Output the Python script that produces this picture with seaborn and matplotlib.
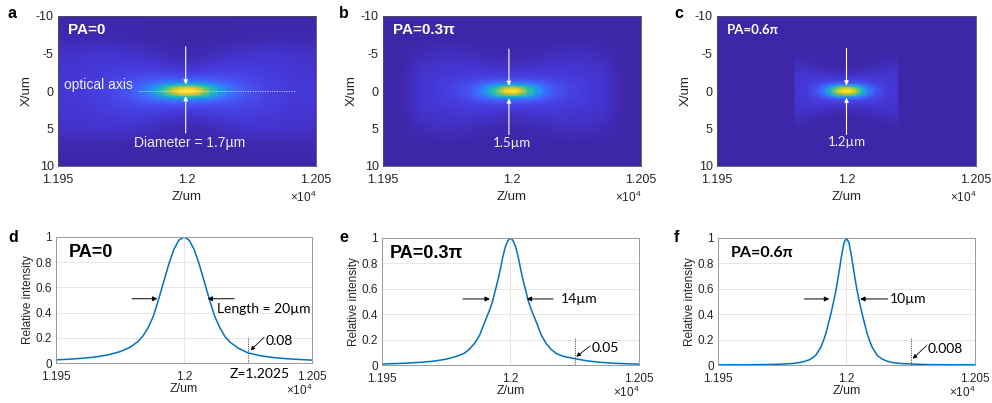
import numpy as np
import matplotlib
matplotlib.use("Agg")
import matplotlib.pyplot as plt
import seaborn as sns
from matplotlib.colors import LinearSegmentedColormap
from matplotlib.ticker import FuncFormatter, FixedLocator

sns.set_theme(style="white")
plt.rcParams['font.family'] = ['Liberation Sans', 'DejaVu Sans']
plt.rcParams['mathtext.default'] = 'regular'
plt.rcParams['axes.unicode_minus'] = False

# ---------------- data ----------------
Z_CENTER = 12000.0  # um
z_ticks = [11950, 12000, 12050]
x_ticks = [-10, -5, 0, 5, 10]
y_ticks = [0, 0.2, 0.4, 0.6, 0.8, 1.0]

pa_labels = ["PA=0", "PA=0.3\u03c0", "PA=0.6\u03c0"]
diam_labels = ["Diameter = 1.7\u00b5m", "1.5\u00b5m", "1.2\u00b5m"]
length_labels = ["Length = 20\u00b5m", "14\u00b5m", "10\u00b5m"]
tail_labels = ["0.08", "0.05", "0.008"]
tail_z = [12025, 12025, 12025]

# Focal intensity maps: one quadrant (z>=0, x>=0), mirrored about the focus
x_nodes = [0, 0.4, 0.8, 1.2, 1.8, 2.6, 3.6, 5.0, 7.0, 10.0]
z_nodes_a = [0, 3, 6, 9, 12, 16, 22, 30, 40, 50]
map_a = [
    [1.00, 0.85, 0.52, 0.26, 0.14, 0.080, 0.040, 0.010, 0.0, 0.0],
    [0.95, 0.80, 0.50, 0.26, 0.14, 0.080, 0.045, 0.012, 0.0, 0.0],
    [0.77, 0.66, 0.44, 0.25, 0.14, 0.085, 0.050, 0.016, 0.0, 0.0],
    [0.56, 0.50, 0.36, 0.23, 0.14, 0.090, 0.056, 0.022, 0.0, 0.0],
    [0.40, 0.36, 0.29, 0.20, 0.135, 0.095, 0.062, 0.030, 0.002, 0.0],
    [0.26, 0.24, 0.21, 0.17, 0.125, 0.095, 0.068, 0.040, 0.005, 0.0],
    [0.16, 0.155, 0.145, 0.13, 0.11, 0.090, 0.072, 0.050, 0.010, 0.0],
    [0.10, 0.10, 0.098, 0.094, 0.088, 0.080, 0.070, 0.055, 0.014, 0.0],
    [0.075, 0.075, 0.074, 0.072, 0.070, 0.066, 0.060, 0.050, 0.014, 0.0],
    [0.065, 0.065, 0.064, 0.063, 0.061, 0.058, 0.053, 0.044, 0.012, 0.0],
]
z_nodes_b = [0, 3, 6, 9, 12, 16, 22, 30, 36, 42, 50]
map_b = [
    [1.00, 0.80, 0.44, 0.20, 0.10, 0.060, 0.030, 0.008, 0.0, 0.0],
    [0.86, 0.70, 0.41, 0.20, 0.10, 0.062, 0.033, 0.010, 0.0, 0.0],
    [0.60, 0.52, 0.35, 0.19, 0.10, 0.065, 0.038, 0.012, 0.0, 0.0],
    [0.40, 0.36, 0.27, 0.17, 0.10, 0.068, 0.043, 0.015, 0.0, 0.0],
    [0.26, 0.24, 0.20, 0.145, 0.095, 0.070, 0.048, 0.019, 0.0, 0.0],
    [0.16, 0.15, 0.14, 0.115, 0.088, 0.070, 0.052, 0.024, 0.0, 0.0],
    [0.10, 0.098, 0.094, 0.088, 0.078, 0.066, 0.054, 0.030, 0.002, 0.0],
    [0.070, 0.070, 0.069, 0.067, 0.064, 0.058, 0.050, 0.030, 0.002, 0.0],
    [0.058, 0.058, 0.057, 0.055, 0.052, 0.047, 0.038, 0.020, 0.0, 0.0],
    [0.010, 0.010, 0.010, 0.009, 0.008, 0.006, 0.004, 0.001, 0.0, 0.0],
    [0.0, 0.0, 0.0, 0.0, 0.0, 0.0, 0.0, 0.0, 0.0, 0.0],
]
z_nodes_c = [0, 2, 4, 6, 8, 11, 15, 19.5, 20.5, 30, 50]
map_c = [
    [1.00, 0.75, 0.32, 0.12, 0.065, 0.020, 0.0, 0.0, 0.0, 0.0],
    [0.93, 0.70, 0.32, 0.12, 0.065, 0.022, 0.0, 0.0, 0.0, 0.0],
    [0.74, 0.58, 0.29, 0.12, 0.065, 0.025, 0.0, 0.0, 0.0, 0.0],
    [0.50, 0.40, 0.24, 0.115, 0.065, 0.030, 0.002, 0.0, 0.0, 0.0],
    [0.30, 0.26, 0.17, 0.10, 0.065, 0.035, 0.005, 0.0, 0.0, 0.0],
    [0.15, 0.14, 0.115, 0.085, 0.062, 0.042, 0.012, 0.0, 0.0, 0.0],
    [0.080, 0.078, 0.074, 0.068, 0.060, 0.048, 0.022, 0.0, 0.0, 0.0],
    [0.060, 0.060, 0.059, 0.058, 0.056, 0.050, 0.035, 0.002, 0.0, 0.0],
    [0.0, 0.0, 0.0, 0.0, 0.0, 0.0, 0.0, 0.0, 0.0, 0.0],
    [0.0, 0.0, 0.0, 0.0, 0.0, 0.0, 0.0, 0.0, 0.0, 0.0],
    [0.0, 0.0, 0.0, 0.0, 0.0, 0.0, 0.0, 0.0, 0.0, 0.0],
]

# On-axis relative intensity curves (z in um)
z_d = [11950, 11955, 11960, 11965, 11970, 11975, 11979, 11982, 11984, 11986, 11988, 11990,
       11992, 11994, 11996, 11998, 12000, 12002, 12004, 12006, 12008, 12010, 12012, 12014,
       12016, 12018, 12021, 12025, 12030, 12035, 12040, 12045, 12050]
I_d = [0.025, 0.030, 0.037, 0.047, 0.063, 0.090, 0.125, 0.170, 0.215, 0.280, 0.370, 0.500,
       0.640, 0.780, 0.900, 0.975, 1.000, 0.975, 0.900, 0.780, 0.640, 0.500, 0.370, 0.280,
       0.210, 0.165, 0.120, 0.080, 0.057, 0.043, 0.034, 0.028, 0.023]
z_e = [11950, 11955, 11960, 11965, 11970, 11975, 11979, 11982, 11984, 11986, 11988, 11990,
       11992, 11993, 11994, 11995, 11996, 11997, 11998, 11999, 12000, 12001, 12002, 12003,
       12004, 12005, 12006, 12007, 12008, 12010, 12012, 12014, 12016, 12018, 12021, 12025,
       12030, 12035, 12040, 12045, 12050]
I_e = [0.008, 0.011, 0.015, 0.021, 0.030, 0.046, 0.068, 0.092, 0.125, 0.170, 0.235, 0.340,
       0.440, 0.500, 0.580, 0.660, 0.750, 0.850, 0.930, 0.980, 1.000, 0.980, 0.930, 0.850,
       0.750, 0.660, 0.580, 0.500, 0.440, 0.340, 0.235, 0.165, 0.120, 0.088, 0.066, 0.050,
       0.032, 0.021, 0.014, 0.010, 0.007]
z_f = [11950, 11960, 11970, 11975, 11979, 11982, 11984, 11986, 11988, 11990, 11991, 11992,
       11993, 11994, 11995, 11996, 11997, 11998, 11999, 12000, 12001, 12002, 12003, 12004,
       12005, 12006, 12007, 12008, 12009, 12010, 12012, 12014, 12016, 12018, 12021, 12025,
       12030, 12040, 12050]
I_f = [0.001, 0.002, 0.004, 0.007, 0.012, 0.020, 0.030, 0.045, 0.075, 0.140, 0.190, 0.250,
       0.330, 0.410, 0.500, 0.600, 0.720, 0.850, 0.960, 1.000, 0.960, 0.850, 0.720, 0.600,
       0.500, 0.410, 0.330, 0.250, 0.190, 0.140, 0.075, 0.045, 0.029, 0.019, 0.012, 0.008,
       0.004, 0.002, 0.001]

# ---------------- colormap (MATLAB parula-like) ----------------
parula_rgb = [
    (0.2422, 0.1504, 0.6603), (0.2706, 0.2147, 0.8364), (0.2813, 0.3006, 0.9414),
    (0.2699, 0.3892, 0.9906), (0.1963, 0.4847, 0.9892), (0.1687, 0.5703, 0.9359),
    (0.1248, 0.6459, 0.8883), (0.0297, 0.7082, 0.8163), (0.0964, 0.7500, 0.7120),
    (0.2161, 0.7843, 0.5923), (0.3909, 0.8029, 0.4354), (0.6174, 0.7876, 0.2612),
    (0.8203, 0.7498, 0.1535), (0.9728, 0.7298, 0.2394), (0.9892, 0.8136, 0.1885),
    (0.9597, 0.9135, 0.1423), (0.9769, 0.9839, 0.0805),
]
parula = LinearSegmentedColormap.from_list("parula", parula_rgb, N=256)
LINE_BLUE = (0.0, 0.4470, 0.7410)
TXT = '#262626'


def full_map(zn, xn, q):
    q = np.asarray(q, dtype=float)
    zn = np.asarray(zn, dtype=float)
    xn = np.asarray(xn, dtype=float)
    zf = np.concatenate([-zn[:0:-1], zn])
    xf = np.concatenate([-xn[:0:-1], xn])
    f = np.concatenate([q[:0:-1], q], axis=0)
    f = np.concatenate([f[:, :0:-1], f], axis=1)
    return zf + Z_CENTER, xf, f


zfmt = FuncFormatter(lambda v, p: f"{v / 1e4:g}")

fig = plt.figure(figsize=(9.92, 4.03), dpi=100)
W, H = 992.0, 403.0


def add_ax(l, r, t, b):
    return fig.add_axes([l / W, 1 - b / H, (r - l) / W, (b - t) / H])


top_boxes = [(58, 316, 16, 166), (383, 641, 16, 166), (717, 976, 16, 166)]
bot_boxes = [(56, 312, 237, 363), (382, 639, 238, 365), (718, 975, 238, 365)]
maps = [(z_nodes_a, map_a), (z_nodes_b, map_b), (z_nodes_c, map_c)]
curves = [(z_d, I_d), (z_e, I_e), (z_f, I_f)]

# geometry of the annotations (positions only)
arrow_z = [11999.5, 11998.8, 12000]
arrow_top = [(-5.9, -0.9), (-5.6, -0.7), (-5.7, -0.75)]
arrow_bot = [(5.6, 0.7), (5.8, 1.0), (5.8, 0.9)]
diam_pos = [(12001, 6.9), (12000, 6.9), (12000, 6.8)]
pa_top_fs = [11, 11, 9.5]
pa_top_family = [['Liberation Sans'], ['Liberation Sans'], ['Lato', 'DejaVu Sans']]

for i, (box, (zn, q)) in enumerate(zip(top_boxes, maps)):
    ax = add_ax(*box)
    Zf, Xf, F = full_map(zn, x_nodes, q)
    ZZ, XX = np.meshgrid(Zf, Xf, indexing='ij')
    ax.set_facecolor(parula(0.0))
    ax.pcolormesh(ZZ, XX, F, shading='gouraud', cmap=parula, vmin=0, vmax=1,
                  rasterized=True)
    ax.set_xlim(z_ticks[0], z_ticks[-1])
    ax.set_ylim(10, -10)
    ax.xaxis.set_major_locator(FixedLocator(z_ticks))
    ax.xaxis.set_major_formatter(zfmt)
    ax.yaxis.set_major_locator(FixedLocator(x_ticks))
    ax.tick_params(direction='in', length=3, width=0.6, colors='#404040',
                   labelsize=9, labelcolor=TXT, pad=3)
    ax.tick_params(axis='x', pad=5.5)
    for s in ax.spines.values():
        s.set_color('#505050')
        s.set_linewidth(0.6)
    ax.set_xlabel('Z/um', fontsize=9.5, color=TXT, labelpad=4)
    ax.set_ylabel('X/um', fontsize=9.5, color=TXT, labelpad=2)
    ax.text(1.0, -0.16, '\u00d7$10^{4}$', transform=ax.transAxes, ha='right',
            va='top', fontsize=8.5, color=TXT)
    ax.text(0.04, 0.905, pa_labels[i], transform=ax.transAxes, ha='left',
            va='center', fontsize=pa_top_fs[i], fontweight='bold', color='white',
            family=pa_top_family[i])
    z = arrow_z[i]
    ap = dict(arrowstyle='-|>', color='white', lw=0.8, mutation_scale=6,
              shrinkA=0, shrinkB=0)
    ax.annotate('', xy=(z, arrow_top[i][1]), xytext=(z, arrow_top[i][0]), arrowprops=ap)
    ax.annotate('', xy=(z, arrow_bot[i][1]), xytext=(z, arrow_bot[i][0]), arrowprops=ap)
    ax.text(diam_pos[i][0], diam_pos[i][1], diam_labels[i], ha='center', va='center',
            fontsize=10 if i == 0 else 9.5, color='#eeeeee',
            family=['Liberation Sans'] if i == 0 else ['Lato', 'DejaVu Sans'])
    if i == 0:
        ax.plot([11981, 12042], [0, 0], ls=(0, (1, 1.5)), color='#e0e0e0', lw=0.7)
        ax.text(11952.5, -0.8, 'optical axis', ha='left', va='center',
                fontsize=10, color='#eeeeee')

# bottom row annotation geometry
arrow_l = [(11979.7, 11989.6), (11981.5, 11992.0), (11983.6, 11993.3)]
arrow_r = [(12019.6, 12009.2), (12016.6, 12006.3), (12016.0, 12005.3)]
arrow_y = [0.51, 0.52, 0.52]
len_pos = [(12013, 0.43), (12019.5, 0.52), (12017, 0.52)]
tail_text_pos = [(12032, 0.175), (12031.6, 0.13), (12031.6, 0.123)]
tail_arrow = [((12031.3, 0.205), (12026.0, 0.10)), ((12031.0, 0.15), (12025.6, 0.065)),
              ((12031.0, 0.15), (12025.8, 0.05))]
pa_bot_fs = [13, 13, 11.5]
pa_bot_family = [['Liberation Sans'], ['Liberation Sans'], ['Lato', 'DejaVu Sans']]
pa_bot_x = [0.05, 0.03, 0.05]
CAL = ['Lato', 'DejaVu Sans']

for i, (box, (zc, Ic)) in enumerate(zip(bot_boxes, curves)):
    ax = add_ax(*box)
    ax.set_facecolor('white')
    ax.grid(True, color='#e6e6e6', lw=0.7)
    ax.set_axisbelow(True)
    sns.lineplot(x=zc, y=Ic, ax=ax, color=LINE_BLUE, lw=1.1, estimator=None,
                 sort=False, legend=False)
    ax.set_xlim(z_ticks[0], z_ticks[-1])
    ax.set_ylim(0, 1)
    ax.xaxis.set_major_locator(FixedLocator(z_ticks))
    ax.xaxis.set_major_formatter(zfmt)
    ax.yaxis.set_major_locator(FixedLocator(y_ticks))
    ax.yaxis.set_major_formatter(FuncFormatter(lambda v, p: f"{v:g}"))
    ax.tick_params(direction='in', length=3, width=0.6, colors='#505050',
                   labelsize=8.5, labelcolor=TXT, pad=3)
    ax.tick_params(axis='x', pad=5.5)
    for s in ax.spines.values():
        s.set_color('#9a9a9a')
        s.set_linewidth(0.7)
    ax.set_xlabel('Z/um', fontsize=9, color=TXT, labelpad=0)
    ax.set_ylabel('Relative intensity', fontsize=8.5, color=TXT, labelpad=1)
    ax.text(1.0, -0.155, '\u00d7$10^{4}$', transform=ax.transAxes, ha='right',
            va='top', fontsize=8.5, color=TXT)
    ax.text(pa_bot_x[i], 0.88, pa_labels[i], transform=ax.transAxes, ha='left',
            va='center', fontsize=pa_bot_fs[i], fontweight='bold', color='black',
            family=pa_bot_family[i])
    ap = dict(arrowstyle='-|>', color='black', lw=0.7, mutation_scale=7,
              shrinkA=0, shrinkB=0)
    ax.annotate('', xy=(arrow_l[i][1], arrow_y[i]), xytext=(arrow_l[i][0], arrow_y[i]),
                arrowprops=ap)
    ax.annotate('', xy=(arrow_r[i][1], arrow_y[i]), xytext=(arrow_r[i][0], arrow_y[i]),
                arrowprops=ap)
    ax.text(len_pos[i][0], len_pos[i][1], length_labels[i], ha='left', va='center',
            fontsize=10, color='black', family=CAL)
    ax.plot([tail_z[i], tail_z[i]], [0, 0.21], ls=(0, (1.2, 1.2)), color='#505050', lw=0.7)
    ax.annotate('', xy=tail_arrow[i][1], xytext=tail_arrow[i][0],
                arrowprops=dict(arrowstyle='-|>', color='black', lw=0.6,
                                mutation_scale=6, shrinkA=0, shrinkB=0))
    ax.text(tail_text_pos[i][0], tail_text_pos[i][1], tail_labels[i], ha='left',
            va='center', fontsize=10, color='black', family=CAL)
    if i == 0:
        ax.text(12029.5, -0.04, 'Z=1.2025', transform=ax.get_xaxis_transform(),
                ha='center', va='top', fontsize=10, color='black', family=CAL)

# panel letters
letters = ['a', 'b', 'c', 'd', 'e', 'f']
letter_pos = [(12.5, 14), (343.5, 14), (679, 14), (13, 237), (343.5, 237), (676, 237)]
for ch, (px, py) in zip(letters, letter_pos):
    fig.text(px / W, 1 - py / H, ch, ha='center', va='center', fontsize=11.5,
             fontweight='bold', color='black')

fig.savefig('out.png', dpi=100, facecolor='white')
